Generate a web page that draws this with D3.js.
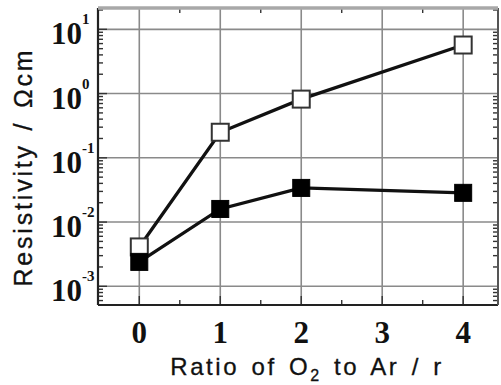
<!DOCTYPE html>
<html>
<head>
<meta charset="utf-8">
<script src="https://cdn.jsdelivr.net/npm/d3@7"></script>
<style>
  body { margin: 0; background: #fff; }
  svg { display: block; }
</style>
</head>
<body>
<div id="chart"></div>
<script>
// ratio of O2 to Ar
const ratios = [0, 1, 2, 4];
// resistivity (ohm cm), open squares
const openSeries = [0.0041, 0.25, 0.82, 5.7];
// resistivity (ohm cm), filled squares
const filledSeries = [0.0024, 0.016, 0.034, 0.0285];
const xTicks = [0, 1, 2, 3, 4];
const yExps = [-3, -2, -1, 0, 1];

const width = 501, height = 385;
const margin = {top: 8, right: 3, bottom: 80, left: 98};
const w = width - margin.left - margin.right;
const h = height - margin.top - margin.bottom;

const svg = d3.select("#chart").append("svg")
    .attr("width", width)
    .attr("height", height);

const g = svg.append("g")
    .attr("transform", "translate(" + [margin.left, margin.top] + ")");

const x = d3.scaleLinear().domain([-0.51, 4.43]).range([0, w]);
const y = d3.scaleLog().domain([Math.pow(10, -3.291), Math.pow(10, 1.332)]).range([h, 0]);

// grid
g.append("g").selectAll("line")
    .data(xTicks)
    .enter().append("line")
    .attr("x1", d => x(d)).attr("x2", d => x(d))
    .attr("y1", 0).attr("y2", h)
    .attr("stroke", "#8a8a8a").attr("stroke-width", 1.6);

g.append("g").selectAll("line")
    .data(yExps)
    .enter().append("line")
    .attr("x1", 0).attr("x2", w)
    .attr("y1", d => y(Math.pow(10, d))).attr("y2", d => y(Math.pow(10, d)))
    .attr("stroke", "#8a8a8a").attr("stroke-width", 1.6);

// minor ticks
let minorY = [];
for (let e = -4; e <= 1; e++) {
    for (let k = 2; k <= 9; k++) {
        let v = k * Math.pow(10, e);
        if (v > y.domain()[0] && v < y.domain()[1]) minorY.push(v);
    }
}
let ticksG = g.append("g").attr("stroke", "#333").attr("stroke-width", 1.4);
ticksG.selectAll(".ml").data(minorY).enter().append("line")
    .attr("x1", 0).attr("x2", 5)
    .attr("y1", d => y(d)).attr("y2", d => y(d));
ticksG.selectAll(".mr").data(minorY).enter().append("line")
    .attr("x1", w).attr("x2", w - 5)
    .attr("y1", d => y(d)).attr("y2", d => y(d));
ticksG.selectAll(".Ml").data(yExps).enter().append("line")
    .attr("x1", 0).attr("x2", 9)
    .attr("y1", d => y(Math.pow(10, d))).attr("y2", d => y(Math.pow(10, d)));

const minorX = [0.5, 1.5, 2.5, 3.5];
ticksG.selectAll(".mb").data(minorX).enter().append("line")
    .attr("x1", d => x(d)).attr("x2", d => x(d))
    .attr("y1", h).attr("y2", h - 5);
ticksG.selectAll(".mt").data(minorX).enter().append("line")
    .attr("x1", d => x(d)).attr("x2", d => x(d))
    .attr("y1", 0).attr("y2", 5);
ticksG.selectAll(".Mb").data(xTicks).enter().append("line")
    .attr("x1", d => x(d)).attr("x2", d => x(d))
    .attr("y1", h).attr("y2", h - 9);

// frame
g.append("line").attr("x1", 0).attr("x2", 0).attr("y1", 0).attr("y2", h)
    .attr("stroke", "#222").attr("stroke-width", 2.2);
g.append("line").attr("x1", 0).attr("x2", w).attr("y1", h).attr("y2", h)
    .attr("stroke", "#222").attr("stroke-width", 2.2);
g.append("line").attr("x1", w).attr("x2", w).attr("y1", 0).attr("y2", h)
    .attr("stroke", "#555").attr("stroke-width", 2);
g.append("line").attr("x1", 0).attr("x2", w).attr("y1", 0).attr("y2", 0)
    .attr("stroke", "#a8a8a8").attr("stroke-width", 3.5);

// series
const line = d3.line().x(d => x(d[0])).y(d => y(d[1]));
const sq = 17;

function drawSeries(vals, fill) {
    let pts = ratios.map((r, i) => [r, vals[i]]);
    g.append("path").datum(pts)
        .attr("d", line)
        .attr("fill", "none")
        .attr("stroke", "#111")
        .attr("stroke-width", 3.3);
    g.append("g").selectAll("rect")
        .data(pts)
        .enter().append("rect")
        .attr("x", d => x(d[0]) - sq / 2)
        .attr("y", d => y(d[1]) - sq / 2)
        .attr("width", sq).attr("height", sq)
        .attr("fill", fill)
        .attr("stroke", fill === "#fff" ? "#333" : "#000")
        .attr("stroke-width", fill === "#fff" ? 2 : 1);
}
drawSeries(openSeries, "#fff");
drawSeries(filledSeries, "#000");

// tick labels
const serif = "'Liberation Serif', 'Times New Roman', serif";
svg.append("g").selectAll("text")
    .data(xTicks)
    .enter().append("text")
    .attr("x", d => margin.left + x(d))
    .attr("y", 343)
    .attr("text-anchor", "middle")
    .attr("font-family", serif)
    .attr("font-weight", "bold")
    .attr("font-size", 31)
    .attr("fill", "#111")
    .text(d => d);

let yl = svg.append("g").selectAll("text")
    .data(yExps)
    .enter().append("text")
    .attr("x", 51)
    .attr("y", d => margin.top + y(Math.pow(10, d)) + 15)
    .attr("font-family", serif)
    .attr("font-weight", "bold")
    .attr("font-size", 31)
    .attr("fill", "#111");
yl.append("tspan").text("10");
yl.append("tspan")
    .attr("font-size", 15)
    .attr("dy", -20)
    .text(d => d < 0 ? "-" + (-d) : d);

// axis titles
const sans = "'Liberation Sans', Arial, Helvetica, sans-serif";
let xt = svg.append("text")
    .attr("x", 307)
    .attr("y", 375)
    .attr("text-anchor", "middle")
    .attr("font-family", sans)
    .attr("font-size", 24)
    .attr("letter-spacing", 2.6)
    .attr("word-spacing", 3)
    .attr("fill", "#111")
    .attr("stroke", "#111")
    .attr("stroke-width", 0.3);
xt.append("tspan").text("Ratio of O");
xt.append("tspan").attr("font-size", 16).attr("dy", 6).text("2");
xt.append("tspan").attr("dy", -6).text(" to Ar / r");

svg.append("text")
    .attr("transform", "translate(32,167) rotate(-90)")
    .attr("text-anchor", "middle")
    .attr("font-family", sans)
    .attr("font-size", 25)
    .attr("letter-spacing", 2.8)
    .attr("word-spacing", 3)
    .attr("fill", "#111")
    .attr("stroke", "#111")
    .attr("stroke-width", 0.3)
    .text("Resistivity / Ωcm");
</script>
</body>
</html>
